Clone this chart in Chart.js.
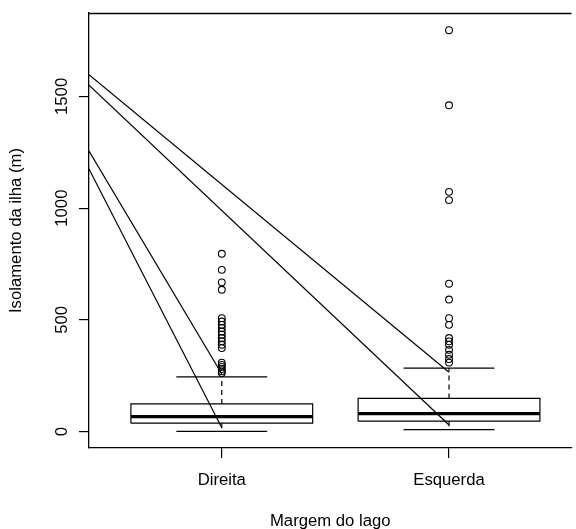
<!DOCTYPE html>
<html><head><meta charset="utf-8">
<script src="https://cdn.jsdelivr.net/npm/chart.js@4/dist/chart.umd.min.js"></script>
<style>html,body{margin:0;padding:0;background:#fff;overflow:hidden}#wrap{width:576px;height:529px;position:relative}</style>
</head><body><div id="wrap"><canvas id="c" width="576" height="529"></canvas></div>
<script>
// ---- data ----
const categories = ['Direita', 'Esquerda'];
const positions = [1, 2];
const lowerWhisker = [1, 9];
const lowerQuartile = [38, 47];
const medians = [67, 81];
const upperQuartile = [124, 149];
const upperWhisker = [245, 284];
const outliersDireita = [796, 724, 668, 635, 508, 493, 478, 464, 448, 434, 419, 404, 389, 374, 309, 299, 290, 280, 270, 262];
const outliersEsquerda = [1796, 1460, 1073, 1036, 662, 591, 508, 478, 419, 404, 389, 366, 344, 325, 309];
const yTicks = [0, 500, 1000, 1500];
const lineStartValues = [1597, 1550, 1255, 1175];
const lineEndPositions = [2, 2, 1, 1];
const lineEndValues = [266, 30, 258, 18];
const xTitle = 'Margem do lago';
const yTitle = 'Isolamento da ilha (m)';

// ---- layout / style ----
const X_MIN = 0.4156, X_MAX = 2.539, Y_MIN = -73, Y_MAX = 1873;
const BOX_HALF = 0.4, CAP_HALF = 0.2;
const FONT = {family: "'Liberation Sans', Arial, sans-serif", size: 16.7, lineHeight: 1};
const BLACK = '#000';
const LW = 1.2;

const datasets = [];
const lineDs = (data, extra) => Object.assign({
  type: 'scatter', data, showLine: true, borderColor: BLACK, backgroundColor: BLACK,
  borderWidth: LW, pointRadius: 0, pointHoverRadius: 0, fill: false, tension: 0
}, extra || {});

positions.forEach((p, i) => {
  // box
  datasets.push(lineDs([
    {x: p - BOX_HALF, y: lowerQuartile[i]}, {x: p + BOX_HALF, y: lowerQuartile[i]},
    {x: p + BOX_HALF, y: upperQuartile[i]}, {x: p - BOX_HALF, y: upperQuartile[i]},
    {x: p - BOX_HALF, y: lowerQuartile[i]}
  ]));
  // median
  datasets.push(lineDs([{x: p - BOX_HALF, y: medians[i]}, {x: p + BOX_HALF, y: medians[i]}], {borderWidth: 3.2, borderCapStyle: 'butt'}));
  // whiskers (dashed)
  datasets.push(lineDs([{x: p, y: upperQuartile[i]}, {x: p, y: upperWhisker[i]}], {borderDash: [5, 4]}));
  datasets.push(lineDs([{x: p, y: lowerQuartile[i]}, {x: p, y: lowerWhisker[i]}], {borderDash: [5, 4]}));
  // caps
  datasets.push(lineDs([{x: p - CAP_HALF, y: upperWhisker[i]}, {x: p + CAP_HALF, y: upperWhisker[i]}]));
  datasets.push(lineDs([{x: p - CAP_HALF, y: lowerWhisker[i]}, {x: p + CAP_HALF, y: lowerWhisker[i]}]));
});

// outliers
[outliersDireita, outliersEsquerda].forEach((arr, i) => {
  datasets.push({
    type: 'scatter', data: arr.map(v => ({x: positions[i], y: v})), showLine: false,
    pointStyle: 'circle', pointRadius: 3.4, pointBorderWidth: 1.1, pointBorderColor: BLACK,
    pointBackgroundColor: 'rgba(0,0,0,0)', pointHoverRadius: 3.4
  });
});

// diagonal lines
lineStartValues.forEach((v, i) => {
  datasets.push(lineDs([{x: X_MIN, y: v}, {x: lineEndPositions[i], y: lineEndValues[i]}]));
});

const framePlugin = {
  id: 'frame',
  afterDraw(chart) {
    const {ctx, chartArea} = chart;
    ctx.save();
    ctx.strokeStyle = BLACK; ctx.lineWidth = 1.3;
    ctx.beginPath();
    ctx.moveTo(chartArea.left, Math.round(chartArea.top) + 0.5);
    ctx.lineTo(chartArea.right, Math.round(chartArea.top) + 0.5);
    ctx.stroke();
    ctx.restore();
  }
};

new Chart(document.getElementById('c'), {
  type: 'scatter',
  data: {datasets},
  options: {
    responsive: false, animation: false, devicePixelRatio: 1,
    layout: {padding: {left: 0, top: 13, right: 0, bottom: 0}},
    plugins: {legend: {display: false}, tooltip: {enabled: false}},
    scales: {
      x: {
        type: 'linear', position: 'bottom', min: X_MIN, max: X_MAX,
        afterBuildTicks: s => { s.ticks = positions.map(v => ({value: v})); },
        afterFit: s => { s.height = 81; },
        grid: {drawOnChartArea: false, drawTicks: true, tickLength: 10, tickColor: BLACK, color: BLACK, lineWidth: LW},
        border: {display: true, color: BLACK, width: 1.3},
        ticks: {
          color: BLACK, font: FONT, padding: 14.5, maxRotation: 0, minRotation: 0, autoSkip: false,
          callback: v => { const k = positions.indexOf(v); return k >= 0 ? categories[k] : ''; }
        },
        title: {display: true, text: xTitle, color: BLACK, font: FONT, padding: {top: 0, bottom: -1}}
      },
      y: {
        type: 'linear', position: 'left', min: Y_MIN, max: Y_MAX,
        afterBuildTicks: s => { s.ticks = yTicks.map(v => ({value: v})); },
        afterFit: s => { s.width = 89; },
        grid: {drawOnChartArea: false, drawTicks: true, tickLength: 10, tickColor: BLACK, color: BLACK, lineWidth: LW},
        border: {display: true, color: BLACK, width: 1.3},
        ticks: {
          color: BLACK, font: FONT, padding: -2, minRotation: 90, maxRotation: 90, crossAlign: 'center', autoSkip: false,
          callback: v => String(v)
        },
        title: {display: true, text: yTitle, color: BLACK, font: FONT, padding: {top: 8, bottom: 0}}
      }
    }
  },
  plugins: [framePlugin]
});
</script></body></html>
